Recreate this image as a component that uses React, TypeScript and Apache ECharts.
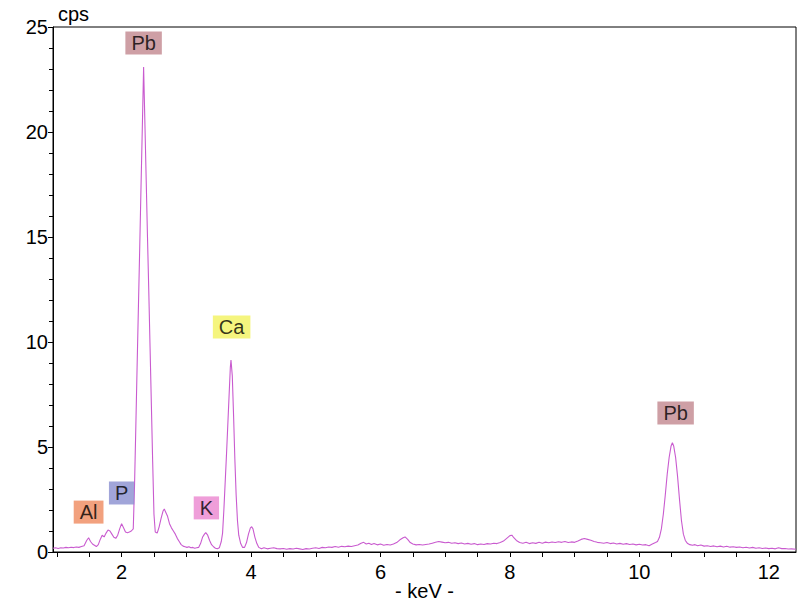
import React, { useEffect, useRef } from "react";
import * as echarts from "echarts";

// Energy (keV) and counts per second
const energy: number[] = [
  0.94, 0.98, 1.02, 1.06, 1.10, 1.14, 1.18, 1.22, 1.26, 1.30, 1.34, 1.38, 1.42, 1.46, 1.49, 1.52, 1.55, 1.58, 1.61, 1.64,
  1.67, 1.70, 1.73, 1.76, 1.79, 1.82, 1.85, 1.88, 1.91, 1.94, 1.97, 2.00, 2.03, 2.06, 2.09, 2.12, 2.15, 2.18, 2.20, 2.22,
  2.24, 2.26, 2.28, 2.30, 2.32, 2.34, 2.36, 2.38, 2.40, 2.42, 2.44, 2.46, 2.48, 2.50, 2.52, 2.55, 2.58, 2.61, 2.64, 2.66,
  2.68, 2.71, 2.74, 2.77, 2.80, 2.83, 2.86, 2.89, 2.92, 2.95, 2.98, 3.01, 3.04, 3.07, 3.10, 3.13, 3.16, 3.19, 3.22, 3.25,
  3.28, 3.30, 3.33, 3.36, 3.39, 3.42, 3.45, 3.48, 3.51, 3.54, 3.56, 3.58, 3.60, 3.62, 3.64, 3.66, 3.68, 3.69, 3.71, 3.73,
  3.75, 3.77, 3.79, 3.81, 3.84, 3.87, 3.90, 3.93, 3.96, 3.99, 4.01, 4.03, 4.06, 4.09, 4.12, 4.16, 4.20, 4.25, 4.30, 4.35,
  4.40, 4.45, 4.50, 4.55, 4.60, 4.65, 4.70, 4.75, 4.80, 4.85, 4.90, 4.95, 5.00, 5.05, 5.10, 5.15, 5.20, 5.25, 5.30, 5.35,
  5.40, 5.45, 5.50, 5.55, 5.60, 5.65, 5.70, 5.74, 5.78, 5.82, 5.86, 5.90, 5.95, 6.00, 6.05, 6.10, 6.15, 6.20, 6.25, 6.30,
  6.35, 6.38, 6.42, 6.46, 6.50, 6.55, 6.60, 6.65, 6.70, 6.75, 6.80, 6.85, 6.90, 6.95, 7.00, 7.05, 7.10, 7.15, 7.20, 7.25,
  7.30, 7.35, 7.40, 7.45, 7.50, 7.55, 7.60, 7.65, 7.70, 7.75, 7.80, 7.85, 7.90, 7.95, 8.00, 8.03, 8.06, 8.10, 8.15, 8.20,
  8.25, 8.30, 8.35, 8.40, 8.45, 8.50, 8.55, 8.60, 8.65, 8.70, 8.75, 8.80, 8.85, 8.90, 8.95, 9.00, 9.05, 9.10, 9.15, 9.20,
  9.25, 9.30, 9.35, 9.40, 9.45, 9.50, 9.55, 9.60, 9.65, 9.70, 9.75, 9.80, 9.85, 9.90, 9.95, 10.00, 10.05, 10.10, 10.15, 10.20,
  10.25, 10.28, 10.31, 10.34, 10.37, 10.40, 10.43, 10.46, 10.49, 10.51, 10.53, 10.56, 10.59, 10.62, 10.65, 10.68, 10.71, 10.74, 10.78, 10.82,
  10.86, 10.90, 10.95, 11.00, 11.05, 11.10, 11.15, 11.20, 11.25, 11.30, 11.35, 11.40, 11.45, 11.50, 11.55, 11.60, 11.65, 11.70, 11.75, 11.80,
  11.85, 11.90, 11.95, 12.00, 12.05, 12.10, 12.15, 12.20, 12.25, 12.30, 12.35, 12.42,
];

const cps: number[] = [
  0.18, 0.2, 0.17, 0.2, 0.19, 0.22, 0.2, 0.23, 0.21, 0.24, 0.22, 0.26, 0.3, 0.55, 0.68, 0.5, 0.38, 0.32, 0.26, 0.35,
  0.6, 0.8, 0.72, 0.9, 1.05, 1.0, 0.85, 0.7, 0.65, 0.8, 1.1, 1.35, 1.15, 0.95, 0.92, 0.95, 1.0, 1.1, 3.2, 6.0,
  8.9, 11.7, 14.5, 17.4, 20.2, 23.1, 20.4, 17.7, 15.0, 12.4, 9.7, 7.0, 4.3, 1.8, 0.95, 0.9, 1.2, 1.6, 1.95, 2.05,
  1.9, 1.7, 1.35, 1.15, 1.0, 0.85, 0.65, 0.5, 0.35, 0.28, 0.25, 0.22, 0.25, 0.2, 0.22, 0.18, 0.2, 0.22, 0.4, 0.7,
  0.85, 0.92, 0.8, 0.55, 0.35, 0.25, 0.18, 0.15, 0.2, 0.5, 0.9, 2.0, 3.3, 4.6, 6.0, 7.4, 8.8, 9.14, 8.4, 6.5,
  4.4, 2.7, 1.5, 0.8, 0.4, 0.22, 0.22, 0.45, 0.85, 1.15, 1.2, 1.1, 0.7, 0.4, 0.22, 0.15, 0.2, 0.15, 0.18, 0.2,
  0.16, 0.15, 0.17, 0.13, 0.16, 0.14, 0.18, 0.15, 0.12, 0.16, 0.14, 0.18, 0.2, 0.17, 0.22, 0.2, 0.24, 0.22, 0.26, 0.23,
  0.27, 0.25, 0.28, 0.26, 0.3, 0.33, 0.42, 0.46, 0.38, 0.42, 0.36, 0.4, 0.34, 0.38, 0.32, 0.36, 0.33, 0.38, 0.45, 0.58,
  0.68, 0.72, 0.6, 0.45, 0.38, 0.34, 0.36, 0.33, 0.36, 0.38, 0.42, 0.46, 0.5, 0.47, 0.44, 0.46, 0.42, 0.44, 0.4, 0.43,
  0.38, 0.41, 0.37, 0.4, 0.35, 0.38, 0.36, 0.4, 0.38, 0.42, 0.4, 0.45, 0.52, 0.65, 0.78, 0.8, 0.68, 0.55, 0.45, 0.42,
  0.46, 0.4, 0.44, 0.41, 0.46, 0.42, 0.47, 0.44, 0.48, 0.45, 0.49, 0.46, 0.5, 0.45, 0.48, 0.46, 0.52, 0.6, 0.64, 0.6,
  0.56, 0.5, 0.46, 0.44, 0.42, 0.45, 0.4, 0.43, 0.38, 0.41, 0.37, 0.4, 0.36, 0.38, 0.34, 0.37, 0.33, 0.35, 0.3, 0.38,
  0.45, 0.5, 0.7, 1.1, 1.8, 2.7, 3.7, 4.5, 5.05, 5.2, 5.05, 4.5, 3.6, 2.5, 1.5, 0.85, 0.55, 0.42, 0.35, 0.32,
  0.35, 0.3, 0.33, 0.28, 0.3, 0.26, 0.29, 0.25, 0.28, 0.24, 0.27, 0.23, 0.25, 0.22, 0.24, 0.2, 0.23, 0.19, 0.22, 0.18,
  0.2, 0.17, 0.19, 0.16, 0.18, 0.15, 0.2, 0.16, 0.17, 0.14, 0.15, 0.13,
];

// Element annotations: name, position (keV, cps), box colour
const peakNames: string[] = ["Pb", "Ca", "Pb", "Al", "P", "K"];
const peakKeV: number[] = [2.34, 3.70, 10.56, 1.49, 2.0, 3.31];
const peakCps: number[] = [24.24, 10.71, 6.62, 1.9, 2.81, 2.1];
const peakColors: string[] = ["#c2878f", "#f3f35e", "#c2878f", "#ef8a5e", "#8a8ecf", "#eb86cf"];

const xLabelValues: number[] = [2, 4, 6, 8, 10, 12];
const xTickValues: number[] = [1, 1.5, 2, 2.5, 3, 3.5, 4, 4.5, 5, 5.5, 6, 6.5, 7, 7.5, 8, 8.5, 9, 9.5, 10, 10.5, 11, 11.5, 12];

const FONT = "'Liberation Sans', Arial, sans-serif";

export default function App() {
  const ref = useRef<HTMLDivElement>(null);

  useEffect(() => {
    document.body.style.margin = "0";
    if (!ref.current) return;
    const chart = echarts.init(ref.current, undefined, { renderer: "svg" });

    const lineData = energy.map((e, i) => [e, cps[i]]);
    const labelData = peakNames.map((n, i) => ({
      value: [peakKeV[i], peakCps[i]],
      name: n,
      label: { backgroundColor: peakColors[i] },
    }));

    chart.setOption({
      animation: false,
      backgroundColor: "#ffffff",
      grid: {
        left: 53,
        right: 4,
        top: 27,
        bottom: 52,
        containLabel: false,
        outerBoundsMode: "none",
        show: true,
        borderColor: "#000",
        borderWidth: 1,
        backgroundColor: "transparent",
      },
      xAxis: {
        type: "value",
        min: 0.94,
        max: 12.42,
        name: "- keV -",
        nameLocation: "middle",
        nameGap: 29,
        nameMoveOverlap: false,
        nameTextStyle: { fontFamily: FONT, fontSize: 20, color: "#000" },
        axisLine: { show: true, onZero: false, lineStyle: { color: "#000", width: 1 } },
        axisTick: { show: true, customValues: xTickValues, length: 5, lineStyle: { color: "#000" } },
        axisLabel: {
          customValues: xLabelValues,
          fontFamily: FONT,
          fontSize: 20,
          color: "#000",
          margin: 10,
        },
        splitLine: { show: false },
      },
      yAxis: {
        type: "value",
        min: 0,
        max: 25,
        interval: 5,
        axisLine: { show: true, lineStyle: { color: "#000", width: 1 } },
        axisTick: { show: true, length: 5, lineStyle: { color: "#000" } },
        minorTick: { show: true, splitNumber: 5, length: 4, lineStyle: { color: "#000" } },
        axisLabel: { fontFamily: FONT, fontSize: 20, color: "#000", margin: 5 },
        splitLine: { show: false },
      },
      graphic: [
        {
          type: "text",
          left: 58,
          top: 4,
          style: { text: "cps", fontFamily: FONT, fontSize: 20, fill: "#000" },
        },
      ],
      series: [
        {
          type: "line",
          data: lineData,
          showSymbol: false,
          symbol: "none",
          lineStyle: { color: "#c95bcf", width: 1.1 },
          z: 2,
        },
        {
          type: "scatter",
          data: labelData,
          symbol: "rect",
          symbolSize: 1,
          itemStyle: { color: "rgba(0,0,0,0)" },
          label: {
            show: true,
            position: "inside",
            formatter: "{b}",
            fontFamily: FONT,
            fontSize: 20,
            color: "#000",
            lineHeight: 20,
            padding: [2, 6, 1, 6],
          },
          z: 3,
        },
      ],
    });

    return () => {
      chart.dispose();
    };
  }, []);

  return <div ref={ref} style={{ width: 800, height: 604 }} />;
}
